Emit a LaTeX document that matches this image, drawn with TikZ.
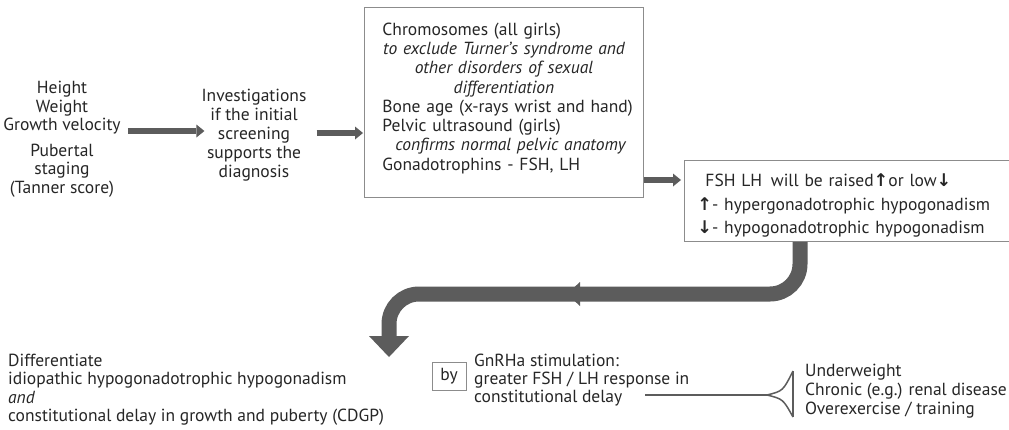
\documentclass[tikz,border=0pt]{standalone}
\usepackage{fontspec}
\setmainfont{PT Sans}
\newfontfamily\arrfont{DejaVu Sans}
\usetikzlibrary{arrows.meta}
\definecolor{ink}{HTML}{262626}
\definecolor{band}{HTML}{5C5C5C}
\definecolor{frame}{HTML}{8C8C8C}
\tikzset{
  txt/.style={inner sep=0pt, text=ink, font=\fontsize{17.5}{18.5}\selectfont},
  boxed/.style={txt, draw=frame, line width=0.9pt},
  fatarrow/.style={draw=band, line width=6pt, -{Triangle[length=8pt,width=13pt,line width=0pt]}},
  bandline/.style={draw=band, line width=15pt},
  forkline/.style={draw=band, line width=1.5pt},
}
\newcommand{\upa}{{\arrfont\bfseries ↑}}
\newcommand{\dna}{{\arrfont\bfseries ↓}}
\begin{document}
\begin{tikzpicture}[x=1pt,y=-1pt]
\useasboundingbox (0,0) rectangle (1009,429);
\fill[white] (0,0) rectangle (1009,429);

\node[txt, anchor=north, align=center] (a) at (62,81)
  {Height\\Weight\\Growth velocity\\[7pt]Pubertal\\staging\\(Tanner score)};

\node[txt, anchor=north, align=center, font=\fontsize{17.5}{19}\selectfont] (b) at (254,89)
  {Investigations\\if the initial\\screening\\supports the\\diagnosis};

\node[boxed, anchor=north west, minimum width=279pt, minimum height=190pt,
      text width=259pt, inner xsep=10pt, align=left,
      font=\fontsize{17.5}{19.3}\selectfont] (c) at (364,7)
  {\hspace*{8pt}Chromosomes (all girls)\\
   \makebox[\linewidth]{\itshape to exclude Turner's syndrome and}\\
   \makebox[\linewidth]{\itshape other disorders of sexual}\\
   \makebox[\linewidth]{\itshape differentiation}\\
   \hspace*{8pt}Bone age (x-rays wrist and hand)\\
   \hspace*{8pt}Pelvic ultrasound (girls)\\
   \makebox[\linewidth]{\hspace*{21pt}\itshape confirms normal pelvic anatomy\hfill}\\
   \hspace*{8pt}Gonadotrophins - FSH, LH\rule[-12pt]{0pt}{1pt}};

\node[boxed, anchor=north west, minimum width=324pt, minimum height=81pt,
      text width=312pt, inner xsep=13pt, align=left,
      font=\fontsize{17.5}{23.5}\selectfont] (d) at (684,160)
  {\rule{0pt}{22pt}\hspace*{8pt}FSH LH\, will be raised\upa or low\dna\\
   \upa - hypergonadotrophic hypogonadism\\
   \dna - hypogonadotrophic hypogonadism};

\node[txt, anchor=north west, align=left, font=\fontsize{17.5}{18.3}\selectfont] (e) at (8,354)
  {Differentiate\\idiopathic hypogonadotrophic hypogonadism\\\textit{and}\\constitutional delay in growth and puberty (CDGP)};

\node[boxed, minimum width=34pt, minimum height=28pt] (f) at (449,376) {by};

\node[txt, anchor=north west, align=left, font=\fontsize{17.5}{18}\selectfont] (g) at (474,354)
  {GnRHa stimulation:\\greater FSH / LH response in\\constitutional delay};

\node[txt, anchor=north west, align=left, font=\fontsize{17.5}{19}\selectfont] (h) at (805,364)
  {Underweight\\Chronic (e.g.) renal disease\\Overexercise / training};

% straight arrows
\draw[fatarrow, shorten <=7pt, shorten >=-3pt] (a.east |- 0,131) -- (b.west |- 0,131);
\draw[fatarrow, shorten <=10pt, shorten >=1pt] (b.east |- 0,133) -- (c.west |- 0,133);
\draw[fatarrow, shorten <=0pt, shorten >=3pt] (c.east |- 0,180) -- (d.west |- 0,180);

% big bent arrow
\coordinate (bend1) at (800,294);
\coordinate (bend2) at (389,294);
\coordinate (headbase) at (389,337);
\draw[bandline, rounded corners=30pt] (d.south -| 800,0) -- (bend1) -- (bend2) -- (headbase);
\fill[band] (369,336) -- (409,336) -- (389,357) -- cycle;
\fill[band] (567,294) -- (580,282) -- (580,306) -- cycle;

% fork to causes
\coordinate (lnstart) at (645,395);
\coordinate (fk) at (767,395);
\coordinate (fu) at (793,371);
\coordinate (fd) at (793,417);
\draw[draw=band, line width=2.6pt] (lnstart) -- (fk);
\draw[forkline] (fk) .. controls (783,391) .. (fu);
\draw[forkline] (fk) .. controls (783,399) .. (fd);
\draw[forkline] (fu) -- (fd);
\end{tikzpicture}
\end{document}
